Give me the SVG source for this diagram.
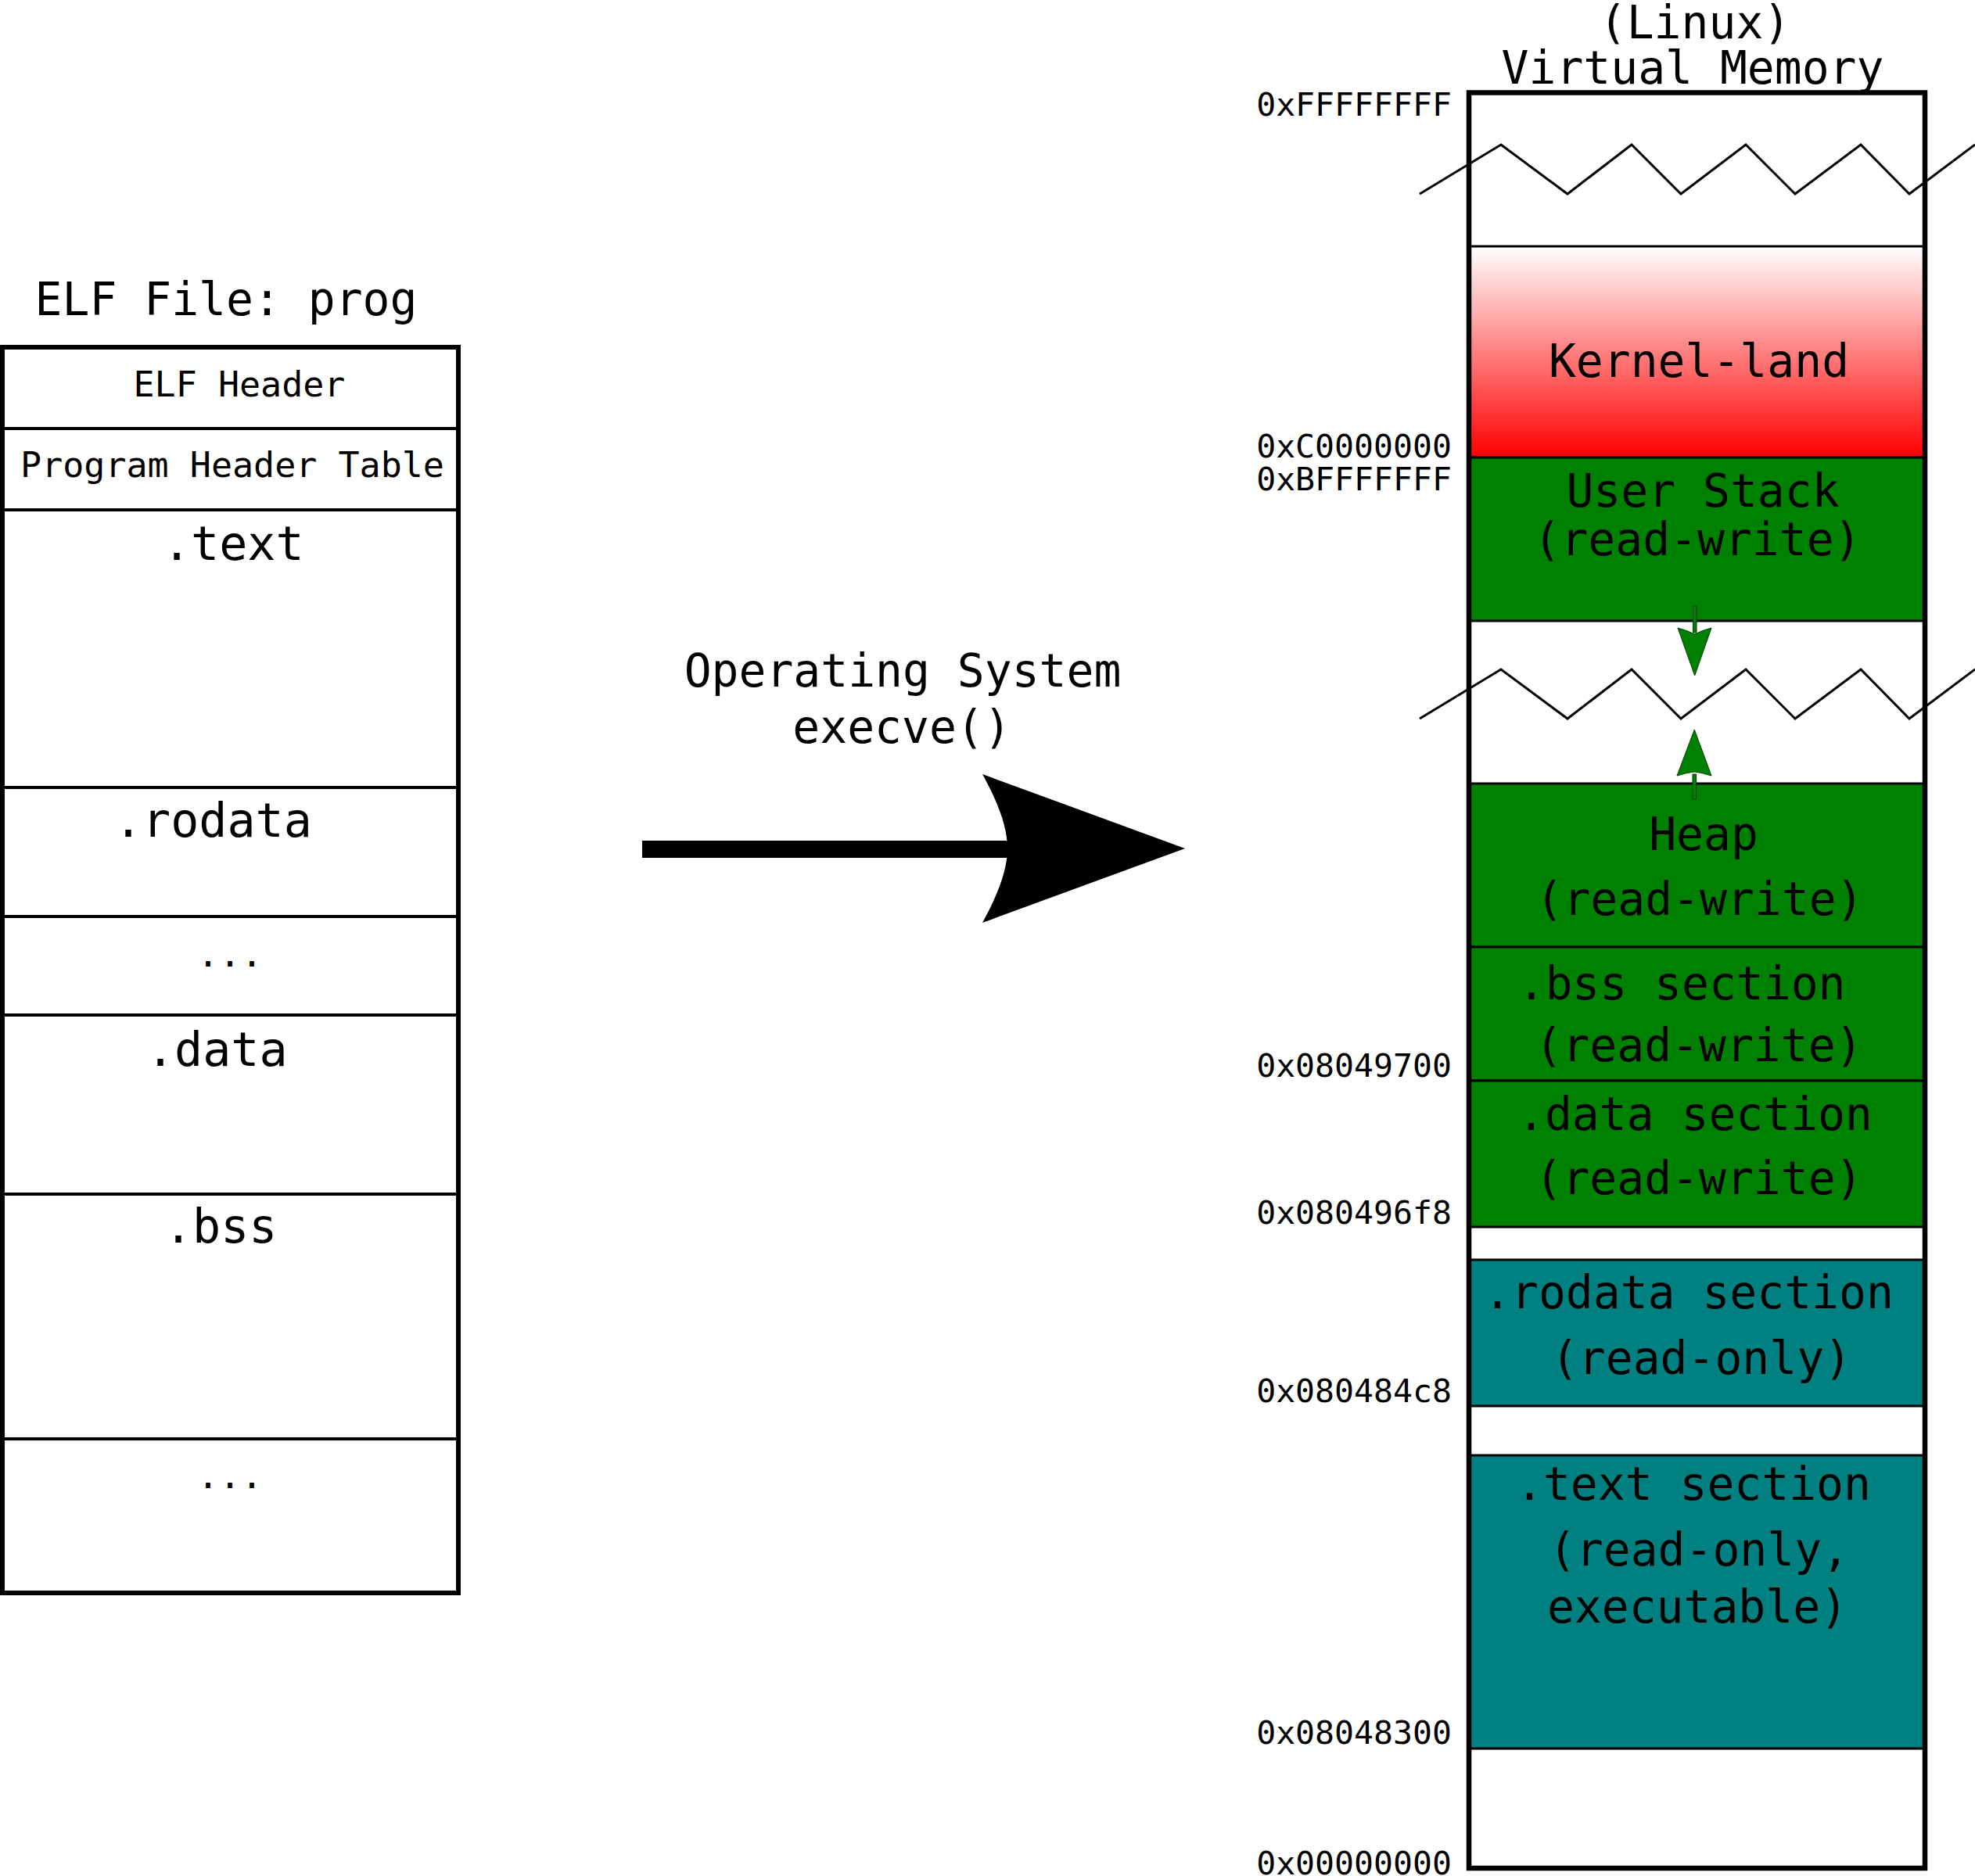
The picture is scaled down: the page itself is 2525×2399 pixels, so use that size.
<svg xmlns="http://www.w3.org/2000/svg" width="2525" height="2399" viewBox="0 0 2525 2399">
<defs>
<linearGradient id="kgrad" x1="0" y1="0" x2="0" y2="1">
<stop offset="0" stop-color="#ffffff"/>
<stop offset="1" stop-color="#ff0000"/>
</linearGradient>
</defs>
<style>
text{font-family:"DejaVu Sans Mono","Liberation Mono",monospace;fill:#000}
.t58{font-size:58px}
.t60{font-size:60px}
.t45{font-size:45px}
.dots{font-size:46.5px}
.addr{font-size:41.5px;text-anchor:end}
.mid{text-anchor:middle}
.div{stroke:#000;stroke-width:4;fill:none}
.sec{stroke:#000;stroke-width:3}
.green{fill:#008000}
.teal{fill:#008080}
.zig{fill:none;stroke:#000;stroke-width:3}
.garrow{fill:#008000;stroke:#004000;stroke-width:1}
</style>
<rect width="2525" height="2399" fill="#fff"/>

<g id="elf-file">
<text class="t58 mid" x="289" y="403">ELF File: prog</text>
<rect x="3" y="444" width="583" height="1593" fill="#fff" stroke="#000" stroke-width="6"/>
<g id="elf-header"><text class="t45 mid" x="306" y="507">ELF Header</text></g>
<line class="div" x1="3" y1="548" x2="586" y2="548"/>
<g id="program-header-table"><text class="t45 mid" x="297" y="610">Program Header Table</text></g>
<line class="div" x1="3" y1="652" x2="586" y2="652"/>
<g id="elf-text"><text class="t60" x="208" y="716">.text</text></g>
<line class="div" x1="3" y1="1007" x2="586" y2="1007"/>
<g id="elf-rodata"><text class="t60" x="146" y="1070">.rodata</text></g>
<line class="div" x1="3" y1="1172" x2="586" y2="1172"/>
<g id="elf-dots1"><text class="dots" x="252" y="1236">...</text></g>
<line class="div" x1="3" y1="1298" x2="586" y2="1298"/>
<g id="elf-data"><text class="t60" x="187" y="1363">.data</text></g>
<line class="div" x1="3" y1="1527" x2="586" y2="1527"/>
<g id="elf-bss"><text class="t60" x="210" y="1589">.bss</text></g>
<line class="div" x1="3" y1="1840" x2="586" y2="1840"/>
<g id="elf-dots2"><text class="dots" x="252" y="1903">...</text></g>
</g>

<g id="execve-label">
<text class="t58 mid" x="1154" y="878">Operating System</text>
<text class="t58 mid" x="1153" y="950">execve()</text>
</g>

<g id="virtual-memory">
<text class="t58 mid" x="2167" y="49">(Linux)</text>
<text class="t58 mid" x="2164" y="107">Virtual Memory</text>
<rect x="1878" y="118.5" width="583" height="2270.5" fill="#fff"/>

<g id="kernel-land">
<rect class="sec" x="1878" y="315" width="583" height="270" fill="url(#kgrad)"/>
<text class="t58 mid" x="2172" y="482">Kernel-land</text>
</g>
<g id="user-stack">
<rect class="sec green" x="1878" y="585" width="583" height="209"/>
<text class="t58 mid" x="2177" y="648">User Stack</text>
<text class="t58 mid" x="2170" y="710">(read-write)</text>
</g>
<g id="heap">
<rect class="sec green" x="1878" y="1002" width="583" height="209"/>
<text class="t58 mid" x="2178" y="1087">Heap</text>
<text class="t58 mid" x="2173" y="1170">(read-write)</text>
</g>
<g id="bss-section">
<rect class="sec green" x="1878" y="1211" width="583" height="171"/>
<text class="t58 mid" x="2150" y="1278">.bss section</text>
<text class="t58 mid" x="2172" y="1357">(read-write)</text>
</g>
<g id="data-section">
<rect class="sec green" x="1878" y="1382" width="583" height="187"/>
<text class="t58 mid" x="2167" y="1445">.data section</text>
<text class="t58 mid" x="2172" y="1527">(read-write)</text>
</g>
<g id="rodata-section">
<rect class="sec teal" x="1878" y="1611" width="583" height="187"/>
<text class="t58 mid" x="2159" y="1673">.rodata section</text>
<text class="t58 mid" x="2175" y="1757">(read-only)</text>
</g>
<g id="text-section">
<rect class="sec teal" x="1878" y="1861" width="583" height="375"/>
<text class="t58 mid" x="2165" y="1918">.text section</text>
<text class="t58 mid" x="2172" y="2002">(read-only,</text>
<text class="t58 mid" x="2170" y="2075">executable)</text>
</g>

<polyline class="zig" points="1815,248 1919,185 2004,248 2086,185 2149,248 2232,185 2295,248 2379,185 2441,248 2525,185"/>
<polyline class="zig" points="1815,919 1919,856 2004,919 2086,856 2149,919 2232,856 2295,919 2379,856 2441,919 2525,856"/>

<rect x="1878" y="118.5" width="583" height="2270.5" fill="none" stroke="#000" stroke-width="6.5"/>

<g id="addresses">
<text class="addr" x="1856" y="148">0xFFFFFFFF</text>
<text class="addr" x="1856" y="585">0xC0000000</text>
<text class="addr" x="1856" y="627">0xBFFFFFFF</text>
<text class="addr" x="1856" y="1377">0x08049700</text>
<text class="addr" x="1856" y="1565">0x080496f8</text>
<text class="addr" x="1856" y="1793">0x080484c8</text>
<text class="addr" x="1856" y="2230">0x08048300</text>
<text class="addr" x="1856" y="2397">0x00000000</text>
</g>
</g>

<g id="connectors">
<g id="execve-arrow">
<rect x="821" y="1075" width="470" height="22" fill="#000"/>
<path d="M1256,990 L1515,1085 L1256,1180 C1278,1140 1288,1110 1288,1085 C1288,1060 1278,1030 1256,990 Z" fill="#000"/>
</g>
<g id="stack-grows-down">
<rect class="garrow" x="2164.5" y="775" width="4.5" height="34"/>
<path class="garrow" d="M2166.7,864 L2145,803 Q2157,806 2166.7,811 Q2176,806 2188,803 Z"/>
</g>
<g id="heap-grows-up">
<rect class="garrow" x="2164" y="990" width="4.5" height="32"/>
<path class="garrow" d="M2166.3,933 L2144,992 Q2156,988 2166.3,987 Q2176,988 2188,992 Z"/>
</g>
</g>
</svg>
